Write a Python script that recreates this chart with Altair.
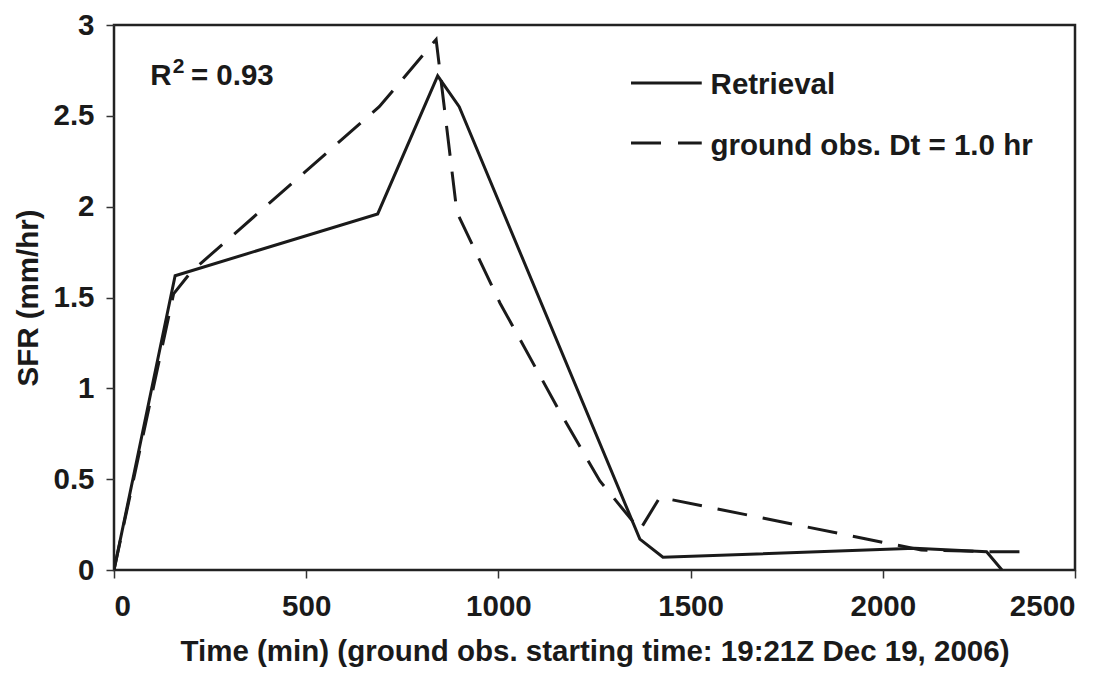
import altair as alt
import pandas as pd

# Retrieval series
t_ret = [0, 159, 686, 842, 898, 1368, 1428, 2083, 2270, 2310]
sfr_ret = [0, 1.62, 1.96, 2.72, 2.55, 0.17, 0.07, 0.12, 0.10, 0.0]

# Ground obs series
t_obs = [0, 155, 200, 690, 838, 892, 1004, 1160, 1264, 1368, 1420, 2100, 2290, 2380]
sfr_obs = [0, 1.52, 1.64, 2.55, 2.92, 1.97, 1.47, 0.87, 0.49, 0.22, 0.40, 0.11, 0.10, 0.10]

x_ticks = [0, 500, 1000, 1500, 2000, 2500]
y_ticks = [0, 0.5, 1, 1.5, 2, 2.5, 3]

FONT = "Liberation Sans"
INK = "#1a1a1a"
FS = 29.5

df_ret = pd.DataFrame({"t": t_ret, "sfr": sfr_ret})
df_obs = pd.DataFrame({"t": t_obs, "sfr": sfr_obs})

xs = alt.Scale(domain=[0, 2500], nice=False)
ys = alt.Scale(domain=[0, 3], nice=False)

x_axis = alt.Axis(values=x_ticks, format="d",
                  title="Time (min) (ground obs. starting time: 19:21Z Dec 19, 2006)",
                  grid=False, domain=False, tickSize=8, tickColor="#333", tickWidth=1.5,
                  labelPadding=14, titlePadding=17)
y_axis = alt.Axis(values=y_ticks, title="SFR (mm/hr)", grid=False, domain=False, tickSize=8,
                  tickColor="#333", tickWidth=1.5, labelPadding=12, titlePadding=9,
                  labelExpr="format(datum.value, '')")

ret = alt.Chart(df_ret).mark_line(color=INK, strokeWidth=3, clip=True).encode(
    x=alt.X("t:Q", scale=xs, axis=x_axis),
    y=alt.Y("sfr:Q", scale=ys, axis=y_axis),
)
obs = alt.Chart(df_obs).mark_line(color=INK, strokeWidth=3, strokeDash=[30, 16], clip=True).encode(
    x=alt.X("t:Q", scale=xs),
    y=alt.Y("sfr:Q", scale=ys),
)

# Legend (in data coordinates)
leg_solid_df = pd.DataFrame({"x1": [1345], "x2": [1529], "y": [2.681]})
leg_dash_df = pd.DataFrame({"x1": [1345], "x2": [1529], "y": [2.35]})
leg_solid = alt.Chart(leg_solid_df).mark_rule(color=INK, strokeWidth=3).encode(
    x="x1:Q", x2="x2:Q", y="y:Q")
leg_dash = alt.Chart(leg_dash_df).mark_rule(color=INK, strokeWidth=3, strokeDash=[30, 17]).encode(
    x="x1:Q", x2="x2:Q", y="y:Q")
leg_text = pd.DataFrame({"x": [1552, 1552], "y": [2.62, 2.284],
                         "label": ["Retrieval", "ground obs. Dt = 1.0 hr"]})
leg_txt = alt.Chart(leg_text).mark_text(align="left", baseline="alphabetic", font=FONT,
                                        fontWeight="bold", fontSize=FS, color=INK).encode(
    x="x:Q", y="y:Q", text="label:N")

# R^2 annotation
r_df = pd.DataFrame({"x": [94], "y": [2.67], "label": ["R"]})
sup_df = pd.DataFrame({"x": [153], "y": [2.735], "label": ["2"]})
eq_df = pd.DataFrame({"x": [200], "y": [2.67], "label": ["= 0.93"]})
r_txt = alt.Chart(r_df).mark_text(align="left", baseline="alphabetic", font=FONT, fontWeight="bold",
                                  fontSize=FS, color=INK).encode(x="x:Q", y="y:Q", text="label:N")
sup_txt = alt.Chart(sup_df).mark_text(align="left", baseline="alphabetic", font=FONT, fontWeight="bold",
                                      fontSize=21, color=INK).encode(x="x:Q", y="y:Q", text="label:N")
eq_txt = alt.Chart(eq_df).mark_text(align="left", baseline="alphabetic", font=FONT, fontWeight="bold",
                                    fontSize=FS, color=INK).encode(x="x:Q", y="y:Q", text="label:N")

chart = alt.layer(ret, obs, leg_solid, leg_dash, leg_txt, r_txt, sup_txt, eq_txt).properties(
    width=961, height=545,
    autosize=alt.AutoSizeParams(type="none"),
    padding={"left": 106, "top": 17, "right": 28, "bottom": 105},
    background="white",
).configure_view(
    stroke="#222", strokeWidth=2.5,
).configure_axis(
    labelFont=FONT, labelFontWeight="bold", labelFontSize=FS, labelColor=INK,
    titleFont=FONT, titleFontWeight="bold", titleFontSize=FS, titleColor=INK,
)

chart.save("out.html", embed_options={"renderer": "svg", "actions": False})
